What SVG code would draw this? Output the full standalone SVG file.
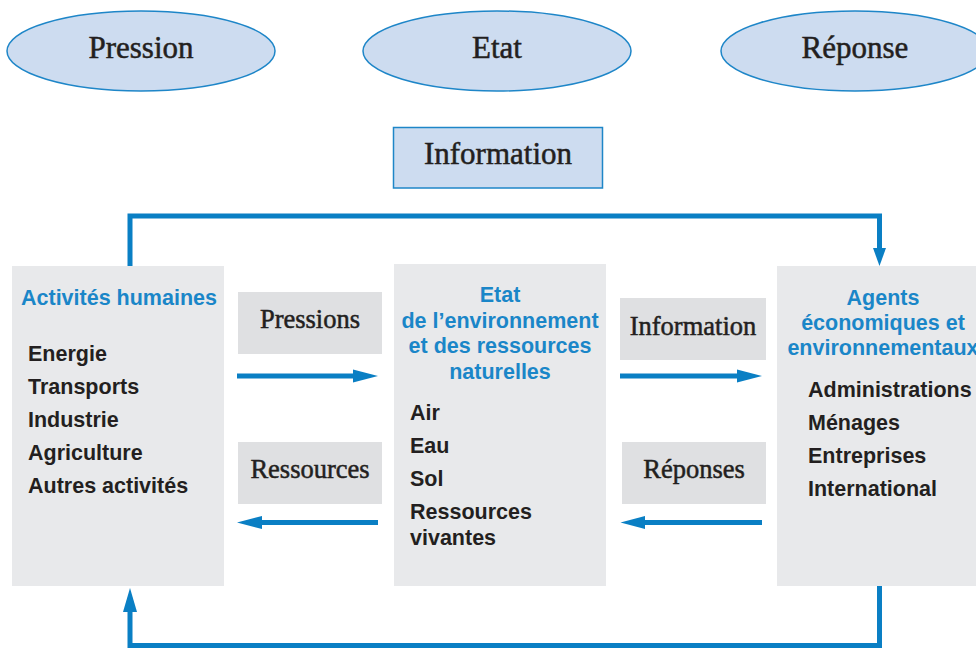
<svg xmlns="http://www.w3.org/2000/svg" width="976" height="648" viewBox="0 0 976 648">
<defs>
<style>
.ell{fill:#cddcf0;stroke:#1e86c8;stroke-width:1.5}
.serif{font-family:"Liberation Serif","Times New Roman",serif;fill:#231f20;stroke:#231f20;stroke-width:0.5;text-anchor:middle}
.big{font-size:31px}
.lbl{font-size:26.5px}
.panel{fill:#e8e9eb}
.lblbox{fill:#dfe0e2}
.title{font-family:"Liberation Sans",Arial,sans-serif;font-weight:bold;font-size:21.5px;fill:#1a86c8}
.item{font-family:"Liberation Sans",Arial,sans-serif;font-weight:bold;font-size:21.5px;fill:#231f20}
.ln{fill:none;stroke:#0a7fc4;stroke-width:5}
.hd{fill:#0a7fc4}
</style>
</defs>
<rect width="976" height="648" fill="#ffffff"/>

<g id="pression">
<ellipse class="ell" cx="141" cy="51" rx="134" ry="40"/>
<text class="serif big" x="141" y="58">Pression</text>
</g>
<g id="etat">
<ellipse class="ell" cx="497" cy="51" rx="134" ry="40"/>
<text class="serif big" x="497" y="58">Etat</text>
</g>
<g id="reponse">
<ellipse class="ell" cx="855" cy="51" rx="134" ry="40"/>
<text class="serif big" x="855" y="58">Réponse</text>
</g>
<g id="information-top">
<rect x="393.5" y="127.5" width="209" height="60.5" fill="#cddcf0" stroke="#1e86c8" stroke-width="1.5"/>
<text class="serif big" x="498" y="164">Information</text>
</g>

<g id="activites">
<rect class="panel" x="12" y="266" width="212" height="320"/>
<text class="title" x="21" y="305">Activités humaines</text>
<text class="item" x="28" y="361">Energie</text>
<text class="item" x="28" y="394">Transports</text>
<text class="item" x="28" y="427">Industrie</text>
<text class="item" x="28" y="460">Agriculture</text>
<text class="item" x="28" y="493">Autres activités</text>
</g>

<g id="etat-env">
<rect class="panel" x="394" y="264" width="212" height="322"/>
<text class="title" x="500" y="302" text-anchor="middle">Etat</text>
<text class="title" x="500" y="327.5" text-anchor="middle">de l’environnement</text>
<text class="title" x="500" y="353" text-anchor="middle">et des ressources</text>
<text class="title" x="500" y="378.5" text-anchor="middle">naturelles</text>
<text class="item" x="410" y="420">Air</text>
<text class="item" x="410" y="453">Eau</text>
<text class="item" x="410" y="486">Sol</text>
<text class="item" x="410" y="519">Ressources</text>
<text class="item" x="410" y="544.5">vivantes</text>
</g>

<g id="agents">
<rect class="panel" x="777" y="266" width="212" height="320"/>
<text class="title" x="883" y="305" text-anchor="middle">Agents</text>
<text class="title" x="883" y="330" text-anchor="middle">économiques et</text>
<text class="title" x="883" y="355" text-anchor="middle">environnementaux</text>
<text class="item" x="808" y="397">Administrations</text>
<text class="item" x="808" y="430">Ménages</text>
<text class="item" x="808" y="463">Entreprises</text>
<text class="item" x="808" y="496">International</text>
</g>

<g id="lbl-pressions">
<rect class="lblbox" x="238" y="292" width="144" height="62"/>
<text class="serif lbl" x="310" y="328">Pressions</text>
</g>
<g id="lbl-ressources">
<rect class="lblbox" x="238" y="442" width="144" height="62"/>
<text class="serif lbl" x="310" y="478">Ressources</text>
</g>
<g id="lbl-information">
<rect class="lblbox" x="620" y="298" width="146" height="62"/>
<text class="serif lbl" x="693" y="335">Information</text>
</g>
<g id="lbl-reponses">
<rect class="lblbox" x="622" y="442" width="144" height="62"/>
<text class="serif lbl" x="694" y="478">Réponses</text>
</g>

<g id="connectors">
<path class="ln" d="M130 266 V216 H879.5 V250"/>
<polygon class="hd" points="873,248 886,248 879.5,266"/>
<path class="ln" d="M879.5 586 V645.5 H130 V608"/>
<polygon class="hd" points="123,612 137,612 130,588"/>
<path class="ln" d="M237 376 H356"/>
<polygon class="hd" points="353,369.5 378,376 353,382.5"/>
<path class="ln" d="M378 522.5 H260"/>
<polygon class="hd" points="262,516 237,522.5 262,529"/>
<path class="ln" d="M620 376 H740"/>
<polygon class="hd" points="737,369.5 762,376 737,382.5"/>
<path class="ln" d="M762 522.5 H643"/>
<polygon class="hd" points="645,516 620.5,522.5 645,529"/>
</g>
</svg>
